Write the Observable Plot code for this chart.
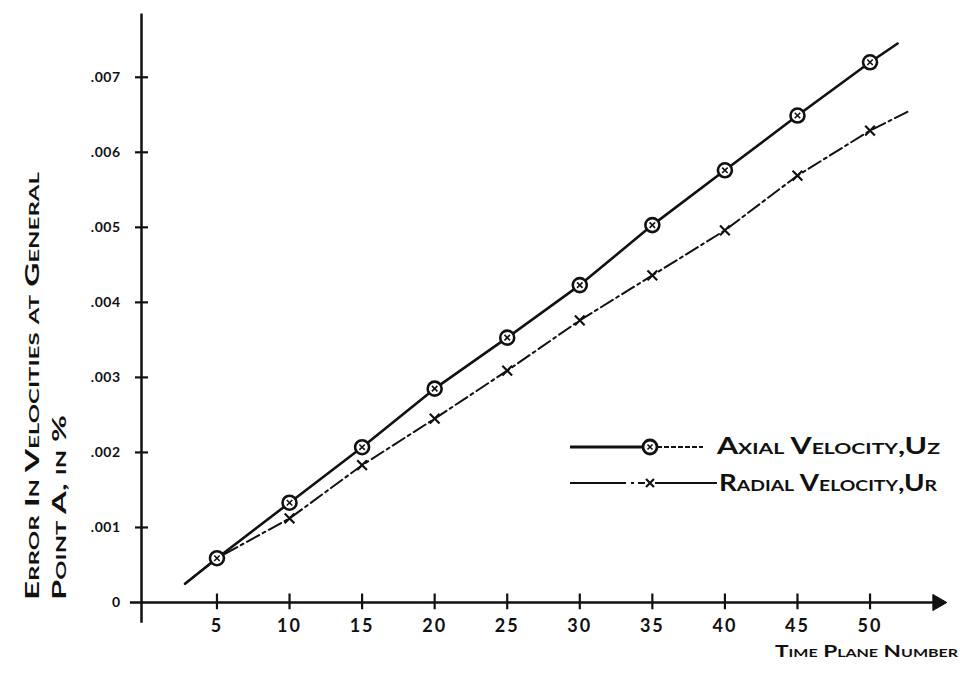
<!DOCTYPE html>
<html>
<head>
<meta charset="utf-8">
<script src="https://cdn.jsdelivr.net/npm/d3@7"></script>
<script src="https://cdn.jsdelivr.net/npm/@observablehq/plot@0.6"></script>
<style>
  body { margin: 0; background: #fff; }
  #wrap { position: relative; width: 967px; height: 674px; }
  #overlay { position: absolute; left: 0; top: 0; pointer-events: none; }
  .hand { font-family: Lato, "DejaVu Sans", sans-serif; font-weight: 700; font-variant: small-caps; fill: #111; }
</style>
</head>
<body>
<div id="wrap"></div>
<script>
// ---- data ----
const timePlanes = [5, 10, 15, 20, 25, 30, 35, 40, 45, 50];
const axialError = [0.00059, 0.00133, 0.00207, 0.00285, 0.00353, 0.00423, 0.00503, 0.00576, 0.00649, 0.0072];
const radialError = [0.00059, 0.00112, 0.00183, 0.00245, 0.00309, 0.00376, 0.00436, 0.00496, 0.00569, 0.00629];
// extension of the drawn curves beyond the first/last plotted point
const axialEndsX = [2.8, 51.9];
const axialEndsY = [0.00025, 0.00745];
const radialEndsX = [2.8, 52.8];
const radialEndsY = [0.00025, 0.00656];
// axis ticks
const xTicks = [5, 10, 15, 20, 25, 30, 35, 40, 45, 50];
const yTicks = [0, 0.001, 0.002, 0.003, 0.004, 0.005, 0.006, 0.007];
const xDomain = [-0.2, 55.2];
const yDomain = [0, 0.00785];
// text
const yTitle1 = "Error In Velocities at General";
const yTitle2 = "Point A, in %";
const xTitle = "Time Plane Number";
const legendAxial = "Axial Velocity,Uz";
const legendRadial = "Radial Velocity,Ur";

// ---- build tables ----
const axialPts = timePlanes.map((t, i) => ({x: t, y: axialError[i]}));
const radialPts = timePlanes.map((t, i) => ({x: t, y: radialError[i]}));
const axialCurve = [{x: axialEndsX[0], y: axialEndsY[0]}, ...axialPts, {x: axialEndsX[1], y: axialEndsY[1]}];
const radialCurve = [{x: radialEndsX[0], y: radialEndsY[0]}, ...radialPts, {x: radialEndsX[1], y: radialEndsY[1]}];

const ink = "#111";
const yFmt = d => d === 0 ? "0" : d3.format(".3f")(d).replace(/^0/, "");
const x0 = xDomain[0];

const chart = Plot.plot({
  width: 967,
  height: 674,
  marginLeft: 141,
  marginRight: 22,
  marginTop: 13,
  marginBottom: 72,
  style: {fontFamily: "Lato, 'DejaVu Sans', sans-serif", fontWeight: 700, fontSize: "18px", color: ink, background: "#fff"},
  x: {domain: xDomain, ticks: xTicks, tickSize: 0, tickPadding: 17, label: null, tickFormat: d => String(d)},
  y: {domain: yDomain, ticks: yTicks, tickSize: 0, tickPadding: 21, label: null, tickFormat: yFmt},
  marks: [
    // y axis line
    Plot.link([0], {x1: () => x0, x2: () => x0, y1: () => -0.00027, y2: () => yDomain[1], stroke: ink, strokeWidth: 2.5}),
    // x axis line
    Plot.link([0], {x1: () => -1, x2: () => xDomain[1] - 0.4, y1: () => 0, y2: () => 0, stroke: ink, strokeWidth: 2.5}),
    // arrow head
    Plot.dot([0], {x: () => xDomain[1] - 0.55, y: () => 0, symbol: "triangle", rotate: 90, r: 6, fill: ink, stroke: ink, strokeWidth: 1}),
    // tick crosses on x axis
    Plot.link(xTicks, {x1: d => d, x2: d => d, y1: () => -0.00009, y2: () => 0.00012, stroke: ink, strokeWidth: 2.2}),
    // tick crosses on y axis
    Plot.link(yTicks.slice(1), {x1: () => x0 - 0.45, x2: () => x0 + 0.45, y1: d => d, y2: d => d, stroke: ink, strokeWidth: 2.2}),
    // curves
    Plot.line(radialCurve, {x: "x", y: "y", stroke: ink, strokeWidth: 2, strokeDasharray: "14,4,3,4"}),
    Plot.line(axialCurve, {x: "x", y: "y", stroke: ink, strokeWidth: 2.6}),
    // radial markers
    Plot.dot(radialPts.slice(1), {x: "x", y: "y", symbol: "times", r: 4.5, stroke: ink, strokeWidth: 2.2}),
    // axial markers
    Plot.dot(axialPts, {x: "x", y: "y", symbol: "circle", r: 7, fill: "#fff", stroke: ink, strokeWidth: 2.6}),
    Plot.dot(axialPts, {x: "x", y: "y", symbol: "times", r: 2.6, stroke: ink, strokeWidth: 1.6})
  ]
});

// y tick labels a bit smaller than x tick labels; x labels slightly spaced like hand lettering
chart.querySelectorAll("g[aria-label='y-axis tick label'] text").forEach(t => { t.style.fontSize = "14px"; t.style.letterSpacing = "0.5px"; });
chart.querySelectorAll("g[aria-label='x-axis tick label'] text").forEach(t => { t.style.letterSpacing = "2px"; });

const wrap = document.getElementById("wrap");
wrap.appendChild(chart);

// overlay: axis titles and legend
const ov = d3.select(wrap).append("svg")
  .attr("id", "overlay").attr("width", 967).attr("height", 674);

ov.append("text").attr("class", "hand")
  .attr("transform", "translate(39,600) rotate(-90)")
  .attr("font-size", 18).attr("textLength", 428).attr("lengthAdjust", "spacingAndGlyphs")
  .text(yTitle1);
ov.append("text").attr("class", "hand")
  .attr("transform", "translate(66,600) rotate(-90)")
  .attr("font-size", 18).attr("textLength", 185).attr("lengthAdjust", "spacingAndGlyphs")
  .text(yTitle2);
ov.append("text").attr("class", "hand")
  .attr("x", 775).attr("y", 657)
  .attr("font-size", 17).attr("textLength", 183).attr("lengthAdjust", "spacingAndGlyphs")
  .text(xTitle);

// legend
const lg = ov.append("g").attr("stroke", ink).attr("fill", "none");
lg.append("line").attr("x1", 570).attr("x2", 643).attr("y1", 447).attr("y2", 447).attr("stroke-width", 3);
lg.append("line").attr("x1", 657).attr("x2", 703).attr("y1", 447).attr("y2", 447).attr("stroke-width", 2).attr("stroke-dasharray", "5,2");
lg.append("circle").attr("cx", 650).attr("cy", 447).attr("r", 7).attr("fill", "#fff").attr("stroke-width", 2.8);
lg.append("path").attr("d", "M647.5,444.5L652.5,449.5M652.5,444.5L647.5,449.5").attr("stroke-width", 1.6);
lg.append("line").attr("x1", 570).attr("x2", 645).attr("y1", 483).attr("y2", 483).attr("stroke-width", 2).attr("stroke-dasharray", "56,5,3,4");
lg.append("line").attr("x1", 655).attr("x2", 717).attr("y1", 483).attr("y2", 483).attr("stroke-width", 2);
lg.append("path").attr("d", "M646,479L654,487M654,479L646,487").attr("stroke-width", 2.2);

ov.append("text").attr("class", "hand")
  .attr("x", 717).attr("y", 454)
  .attr("font-size", 23).attr("textLength", 223).attr("lengthAdjust", "spacingAndGlyphs")
  .text(legendAxial);
ov.append("text").attr("class", "hand")
  .attr("x", 719).attr("y", 491)
  .attr("font-size", 23).attr("textLength", 218).attr("lengthAdjust", "spacingAndGlyphs")
  .text(legendRadial);
</script>
</body>
</html>
